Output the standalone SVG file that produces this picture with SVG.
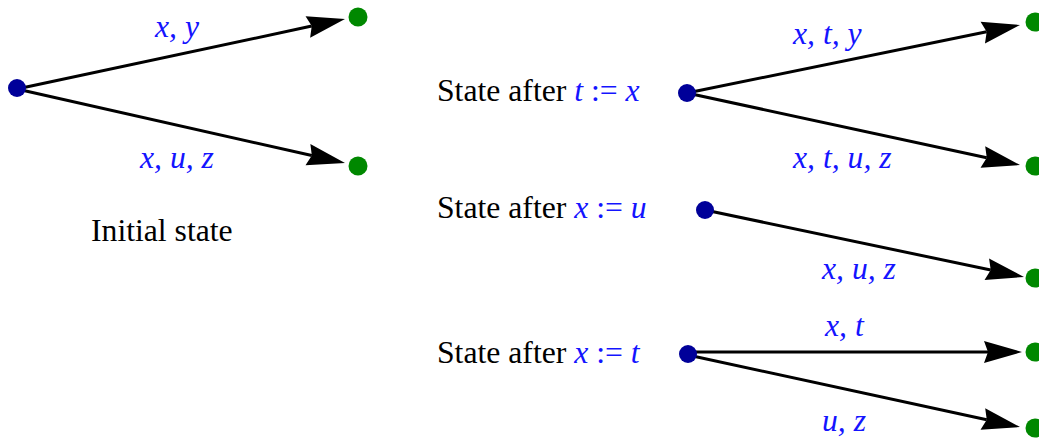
<svg xmlns="http://www.w3.org/2000/svg" width="1039" height="439" viewBox="0 0 1039 439">
  <style>
    .lbl { font-family: "Liberation Serif", "Times New Roman", serif; font-size: 31.7px; }
    .cap { fill: #000000; }
    .var { fill: #1414ff; font-style: italic; }
    .op { font-style: normal; }
    .edge { stroke: #000000; stroke-width: 3; fill: none; marker-end: url(#head); }
    .src { fill: #000099; }
    .dst { fill: #008800; }
  </style>
  <defs>
    <!-- notched arrowhead: ref point sits at the notch, tip 34px ahead -->
    <marker id="head" markerUnits="userSpaceOnUse" markerWidth="1" markerHeight="1" refX="0" refY="0" orient="auto" overflow="visible">
      <path d="M34,0 L-4,-11 L0,0 L-4,11 Z" fill="#000000"/>
    </marker>
  </defs>

  <!-- connectors -->
  <g id="connectors">
    <line class="edge" x1="17" y1="89" x2="311.75" y2="26.09"/>
    <line class="edge" x1="17" y1="89" x2="311.84" y2="155.52"/>
    <line class="edge" x1="687" y1="93" x2="986.69" y2="31.80"/>
    <line class="edge" x1="687" y1="93" x2="986.77" y2="157.81"/>
    <line class="edge" x1="705" y1="210" x2="990.73" y2="270.01"/>
    <line class="edge" x1="688" y1="352" x2="988" y2="352"/>
    <line class="edge" x1="688" y1="355" x2="986.77" y2="419.79"/>
  </g>

  <!-- initial state -->
  <g id="initial">
    <circle class="src" cx="17" cy="88" r="9"/>
    <circle class="dst" cx="358" cy="17" r="9.5"/>
    <circle class="dst" cx="358" cy="166" r="9.5"/>
    <text class="lbl var" x="155" y="37">x, y</text>
    <text class="lbl var" x="140" y="168">x, u, z</text>
    <text class="lbl cap" x="91" y="241">Initial state</text>
  </g>

  <!-- after t := x -->
  <g id="after-t-x">
    <text class="lbl cap" x="437" y="101">State after <tspan class="var">t <tspan class="op">:=</tspan> x</tspan></text>
    <circle class="src" cx="687" cy="93" r="9"/>
    <circle class="dst" cx="1035" cy="22" r="9.5"/>
    <circle class="dst" cx="1035" cy="166" r="9.5"/>
    <text class="lbl var" x="793" y="44">x, t, y</text>
    <text class="lbl var" x="793" y="168">x, t, u, z</text>
  </g>

  <!-- after x := u -->
  <g id="after-x-u">
    <text class="lbl cap" x="437" y="218">State after <tspan class="var">x <tspan class="op">:=</tspan> u</tspan></text>
    <circle class="src" cx="705" cy="210" r="9"/>
    <circle class="dst" cx="1035" cy="278" r="9.5"/>
    <text class="lbl var" x="822" y="279">x, u, z</text>
  </g>

  <!-- after x := t -->
  <g id="after-x-t">
    <text class="lbl cap" x="437" y="363">State after <tspan class="var">x <tspan class="op">:=</tspan> t</tspan></text>
    <circle class="src" cx="688" cy="354" r="9"/>
    <circle class="dst" cx="1035" cy="352" r="9.5"/>
    <circle class="dst" cx="1035" cy="428" r="9.5"/>
    <text class="lbl var" x="825" y="336">x, t</text>
    <text class="lbl var" x="822" y="431">u, z</text>
  </g>
</svg>
